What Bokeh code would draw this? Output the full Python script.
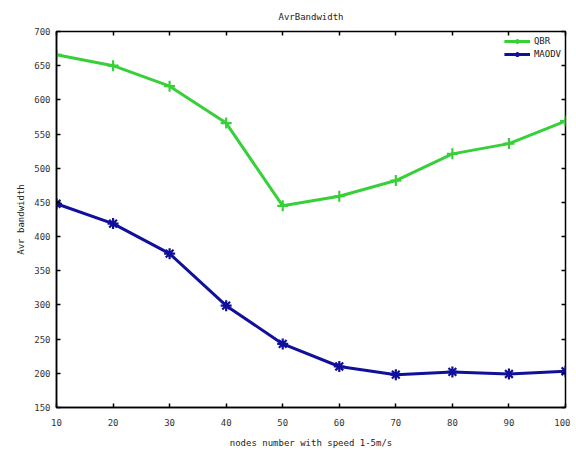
from bokeh.plotting import figure
from bokeh.models import LinearAxis, FixedTicker, Legend, LegendItem, Range1d, CustomJSTickFormatter
from bokeh.embed import file_html
from bokeh.resources import INLINE

# data
nodes = [10, 20, 30, 40, 50, 60, 70, 80, 90, 100]
qbr = [666, 650, 620, 566, 445, 459, 482, 521, 536, 569]
maodv = [448, 419, 375, 299, 243, 210, 198, 202, 199, 203]
x_ticks = [10, 20, 30, 40, 50, 60, 70, 80, 90, 100]
y_ticks = [150, 200, 250, 300, 350, 400, 450, 500, 550, 600, 650, 700]

FONT = "DejaVu Sans Mono"
GREEN = "#38d038"
BLUE = "#10109a"

p = figure(width=570, height=450, output_backend="svg", toolbar_location=None,
           x_range=Range1d(10, 100), y_range=Range1d(150, 700),
           title="AvrBandwidth",
           min_border_left=56, min_border_right=5, min_border_top=31, min_border_bottom=43)

p.title.align = "center"
p.title.vertical_align = "top"
p.title.text_font = FONT
p.title.text_font_size = "9px"
p.title.text_font_style = "normal"
p.title.text_color = "#222222"
p.title.standoff = 16

p.xgrid.visible = False
p.ygrid.visible = False
p.outline_line_color = "black"
p.outline_line_width = 1.5
p.background_fill_color = "white"
p.border_fill_color = "white"

for ax in (p.xaxis[0], p.yaxis[0]):
    ax.major_tick_in = 4
    ax.major_tick_out = 0
    ax.minor_tick_in = 0
    ax.minor_tick_out = 0
    ax.major_tick_line_color = "black"
    ax.major_tick_line_width = 1.5
    ax.axis_line_color = "black"
    ax.axis_line_width = 1.5
    ax.major_label_text_font = FONT
    ax.major_label_text_font_size = "9px"
    ax.major_label_text_color = "#333333"
    ax.axis_label_text_font = FONT
    ax.axis_label_text_font_size = "9px"
    ax.axis_label_text_font_style = "normal"
    ax.axis_label_text_color = "#222222"

p.xaxis[0].ticker = FixedTicker(ticks=x_ticks)
p.yaxis[0].ticker = FixedTicker(ticks=y_ticks)
p.xaxis[0].axis_label = "nodes number with speed 1-5m/s"
p.yaxis[0].axis_label = "Avr bandwidth"
p.xaxis[0].major_label_standoff = 11
p.xaxis[0].axis_label_standoff = 9
p.yaxis[0].major_label_standoff = 6
p.yaxis[0].axis_label_standoff = 5

# mirror ticks (no labels)
blank = CustomJSTickFormatter(code="return ''")
top = LinearAxis(ticker=FixedTicker(ticks=x_ticks), formatter=blank, major_tick_in=4, major_tick_out=0,
                 minor_tick_in=0, minor_tick_out=0, major_label_standoff=0,
                 axis_line_color=None, major_tick_line_width=1.5)
right = LinearAxis(ticker=FixedTicker(ticks=y_ticks), formatter=blank, major_tick_in=4, major_tick_out=0,
                   minor_tick_in=0, minor_tick_out=0, major_label_standoff=0,
                   axis_line_color=None, major_tick_line_width=1.5)
p.add_layout(top, "above")
p.add_layout(right, "right")

l1 = p.line(nodes, qbr, line_color=GREEN, line_width=3)
m1 = p.scatter(nodes, qbr, marker="cross", size=11, line_color=GREEN, line_width=2.2)
l2 = p.line(nodes, maodv, line_color=BLUE, line_width=3)
m2 = p.scatter(nodes, maodv, marker="asterisk", size=11, line_color=BLUE, line_width=2.2)

legend = Legend(items=[LegendItem(label="QBR", renderers=[l1, m1]),
                       LegendItem(label="MAODV", renderers=[l2, m2])],
                location="top_right", border_line_color=None, background_fill_alpha=0,
                label_text_font=FONT, label_text_font_size="9px", label_text_color="#222222",
                glyph_width=26, glyph_height=12, label_height=12, spacing=1,
                padding=4, margin=4, label_standoff=4)
p.add_layout(legend)

open("out.html", "w").write(file_html(p, INLINE))
